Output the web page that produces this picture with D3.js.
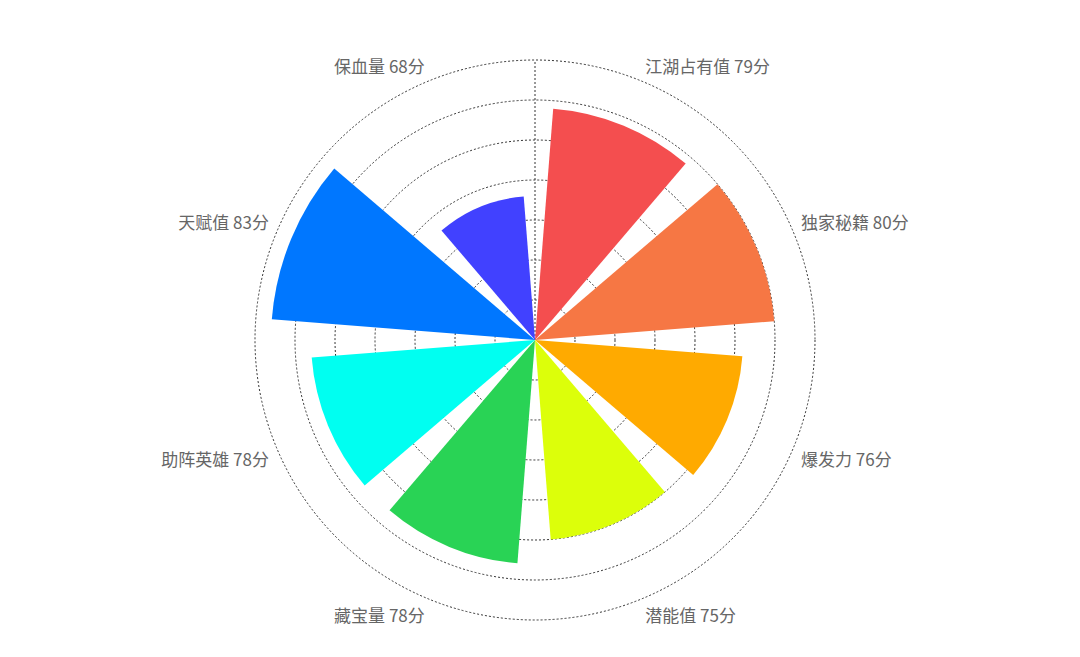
<!DOCTYPE html>
<html>
<head>
<meta charset="utf-8">
<script src="https://cdn.jsdelivr.net/npm/d3@7/dist/d3.min.js"></script>
<style>
  html, body { margin: 0; padding: 0; background: #fff; }
  #chart { width: 1080px; height: 657px; }
</style>
</head>
<body>
<div id="chart"></div>
<script>
// categories clockwise from 12 o'clock
const categories = ["江湖占有值", "独家秘籍", "爆发力", "潜能值", "藏宝量", "助阵英雄", "天赋值", "保血量"];
const scores = [79, 80, 76, 75, 78, 78, 83, 68];
const colors = ["#f44e4f", "#f67744", "#ffaa00", "#dcff0a", "#29d355", "#00fff1", "#0077ff", "#4141ff"];
const radiusTicks = [55, 60, 65, 70, 75, 80, 85];

const width = 1080, height = 657;
const cx = 535, cy = 340;
const outerR = 280;

const svg = d3.select("#chart").append("svg")
  .attr("width", width)
  .attr("height", height);

const g = svg.append("g").attr("transform", `translate(${cx},${cy})`);

// angle per category, 20% gap between bars
const angle = d3.scaleBand()
  .domain(categories)
  .range([0, 2 * Math.PI])
  .paddingInner(0.2)
  .paddingOuter(0.1);

const r = d3.scaleLinear()
  .domain([50, 85])
  .range([0, outerR]);

// ----- dotted rings -----
g.selectAll("circle.ring")
  .data(radiusTicks)
  .enter()
  .append("circle")
  .attr("class", "ring")
  .attr("r", d => r(d))
  .attr("fill", "none")
  .attr("stroke", "#333")
  .attr("stroke-width", 1)
  .attr("stroke-dasharray", "2,2");

// radius axis line (straight up)
g.append("line")
  .attr("x1", 0).attr("y1", 0)
  .attr("x2", 0).attr("y2", -r(85))
  .attr("stroke", "#333")
  .attr("stroke-width", 1)
  .attr("stroke-dasharray", "2,2");

// ----- sectors -----
const arc = d3.arc()
  .innerRadius(0)
  .outerRadius(d => r(d.value))
  .startAngle(d => angle(d.name))
  .endAngle(d => angle(d.name) + angle.bandwidth());

const rows = categories.map((c, i) => ({ name: c, value: scores[i], color: colors[i] }));

g.selectAll("path.bar")
  .data(rows)
  .enter()
  .append("path")
  .attr("class", "bar")
  .attr("d", arc)
  .attr("fill", d => d.color);

// ----- labels -----
const labelR = outerR + 8;
g.selectAll("text.lbl")
  .data(rows)
  .enter()
  .append("text")
  .attr("class", "lbl")
  .each(function (d) {
    const a = angle(d.name) + angle.bandwidth() / 2;
    const x = labelR * Math.sin(a);
    const y = -labelR * Math.cos(a);
    d3.select(this)
      .attr("x", x)
      .attr("y", y + (y < 0 ? -8 : 8))
      .attr("text-anchor", x >= 0 ? "start" : "end");
  })
  .attr("dominant-baseline", "central")
  .attr("font-family", "'Noto Sans CJK SC', 'Noto Sans', sans-serif")
  .attr("font-size", 17)
  .attr("fill", "#666")
  .text(d => `${d.name} ${d.value}分`);
</script>
</body>
</html>
